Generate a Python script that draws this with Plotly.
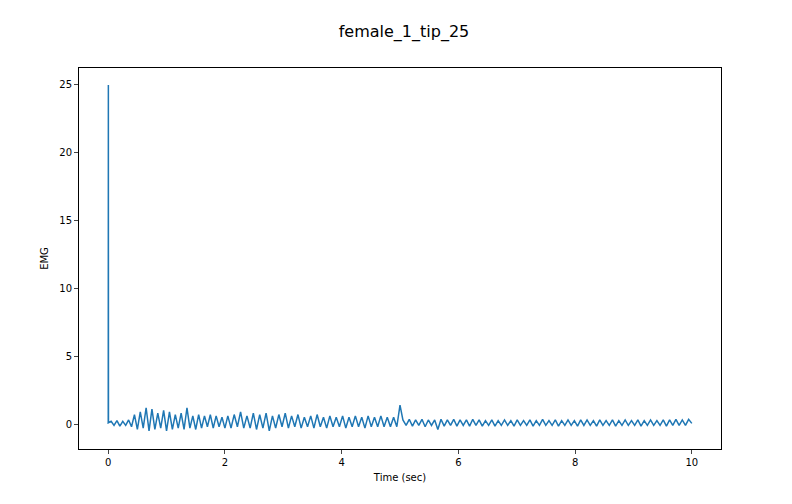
import numpy as np
import plotly.graph_objects as go

title = "female_1_tip_25"
spike = [0.0, 0.2, 25.0, 0.1]
seg1 = [0.2,-0.1,0.25,-0.15,0.2,-0.1,0.3,-0.2]
seg2 = [0.7,-0.4,0.9,-0.3,1.2,-0.5,1.1,-0.4,0.8,-0.3,1.0,-0.5,0.9,-0.4,0.7,-0.3,
        0.8,-0.4,1.2,-0.3,0.6,-0.4,0.7,-0.3,0.6,-0.2,0.7,-0.3,0.6,-0.2,0.5,-0.3]
seg3 = [0.6,-0.3,0.7,-0.2,0.9,-0.3,0.6,-0.3,0.8,-0.4,0.7,-0.3,0.8,-0.5,0.6,-0.3,0.7,-0.2,
        0.8,-0.3,0.6,-0.2,0.7,-0.3,0.5,-0.2,0.6,-0.3,0.7,-0.2,0.5,-0.3,0.6,-0.2,0.5,-0.2,
        0.6,-0.3,0.5,-0.2,0.6,-0.2,0.5,-0.3,0.6,-0.2,0.5,-0.2,0.6,-0.2,0.5,-0.2,0.5,-0.2,1.4]
seg4 = [0.3,-0.1,0.35,-0.15,0.3,-0.1,0.35,-0.2,0.3,-0.1,0.3,-0.4,0.35,-0.15,0.3,-0.1,0.35,-0.15,0.3,
        -0.1,0.3,-0.15,0.35,-0.1,0.3,-0.15,0.25,-0.1,0.3,-0.15,0.25,-0.1,0.3,-0.1,0.25,-0.15,0.3,-0.1,
        0.25,-0.1,0.3,-0.15,0.25,-0.1,0.35,-0.1,0.25,-0.1,0.3,-0.15,0.25,-0.1,0.3,-0.1,0.25,-0.15,0.3,
        -0.1,0.3,-0.1,0.25,-0.15,0.3,-0.1,0.25,-0.1,0.3,-0.15,0.25,-0.1,0.3,-0.1,0.25,-0.1,0.3,-0.15,
        0.25,-0.1,0.3,-0.1,0.25,-0.1,0.3,-0.15,0.3,-0.1,0.35,-0.1,0.3,-0.1,0.35,0.05]
t_spike = [0.0, 0.001, 0.003, 0.005]
seg_bounds = [(0.05, 0.4), (0.45, 2.0), (2.05, 5.0), (5.05, 10.0)]

segs = [seg1, seg2, seg3, seg4]
emg = spike + seg1 + seg2 + seg3 + seg4
time = list(t_spike)
for s, (a, b) in zip(segs, seg_bounds):
    time += list(np.linspace(a, b, len(s)))

fig = go.Figure(go.Scatter(x=time, y=emg, mode="lines", line=dict(color="#1f77b4", width=1.5)))
ax = dict(showgrid=False, zeroline=False, showline=True, linecolor="black", mirror=True,
          ticks="outside", ticklen=4, tickfont=dict(size=10, color="black"), automargin=False)
fig.update_layout(
    width=792, height=504, plot_bgcolor="white", paper_bgcolor="white",
    font=dict(family="DejaVu Sans", color="black"),
    title=dict(text=title, x=0.5, xanchor="center", y=0.965, font=dict(size=16)),
    margin=dict(l=71, r=79, t=60, b=63, autoexpand=False), showlegend=False,
    xaxis=dict(ax, range=[-0.5, 10.5], tickvals=[0, 2, 4, 6, 8, 10],
               title=dict(text="Time (sec)", font=dict(size=10), standoff=6)),
    yaxis=dict(ax, range=[-1.84, 26.25], tickvals=[0, 5, 10, 15, 20, 25],
               title=dict(text="EMG", font=dict(size=10), standoff=8)),
)
fig.write_html("out.html")
